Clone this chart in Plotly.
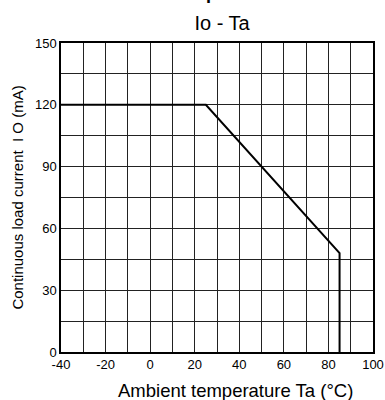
import plotly.graph_objects as go

temp_c = [-40, 25, 85, 85]
current_ma = [120, 120, 48, 0]
x_ticks = [-40, -20, 0, 20, 40, 60, 80, 100]
y_ticks = [0, 30, 60, 90, 120, 150]

FONT = "Liberation Sans, Arial, sans-serif"

fig = go.Figure()
fig.add_trace(go.Scatter(x=temp_c, y=current_ma, mode="lines",
                         line=dict(color="black", width=2), showlegend=False,
                         hoverinfo="skip"))

fig.update_layout(
    width=385, height=400,
    margin=dict(l=61, r=12, t=43, b=48, autoexpand=False),
    paper_bgcolor="white", plot_bgcolor="white",
    font=dict(family=FONT, color="black"),
    title=dict(text="Io - Ta", x=0.577, xref="container", xanchor="center",
               y=0.942, yanchor="middle",
               font=dict(size=20, family=FONT, color="black")),
)
# partially visible (cut-off) heading above the chart
fig.add_annotation(text="<b>p</b>", xref="paper", yref="paper", x=0.481, y=1.123,
                   xanchor="center", yanchor="bottom", showarrow=False,
                   font=dict(size=18, family=FONT, color="black"))
# x-axis title (offset to the right like the reference)
fig.add_annotation(text="Ambient temperature Ta (°C)", xref="paper", yref="paper",
                   x=0.558, y=-0.126, xanchor="center", yanchor="middle",
                   showarrow=False, font=dict(size=18.5, family=FONT, color="black"))
fig.update_xaxes(
    range=[-40, 100], tickvals=x_ticks, ticktext=[str(v) for v in x_ticks],
    showgrid=True, gridcolor="#222", gridwidth=1, automargin=False,
    minor=dict(dtick=10, tick0=-40, showgrid=True, gridcolor="#222", gridwidth=1),
    showline=True, linecolor="black", linewidth=1.5, mirror=True,
    zeroline=False, ticks="", tickfont=dict(size=13, family=FONT, color="black"),
)
fig.update_yaxes(
    range=[0, 150], tickvals=y_ticks, ticktext=[str(v) for v in y_ticks],
    showgrid=True, gridcolor="#222", gridwidth=1, automargin=False,
    minor=dict(dtick=15, tick0=0, showgrid=True, gridcolor="#222", gridwidth=1),
    showline=True, linecolor="black", linewidth=1.5, mirror=True,
    zeroline=False, ticks="", tickfont=dict(size=13, family=FONT, color="black"),
    title=dict(text="Continuous load current  I O (mA)", font=dict(size=15, family=FONT, color="black"),
               standoff=8),
)

fig.write_html("out.html")
